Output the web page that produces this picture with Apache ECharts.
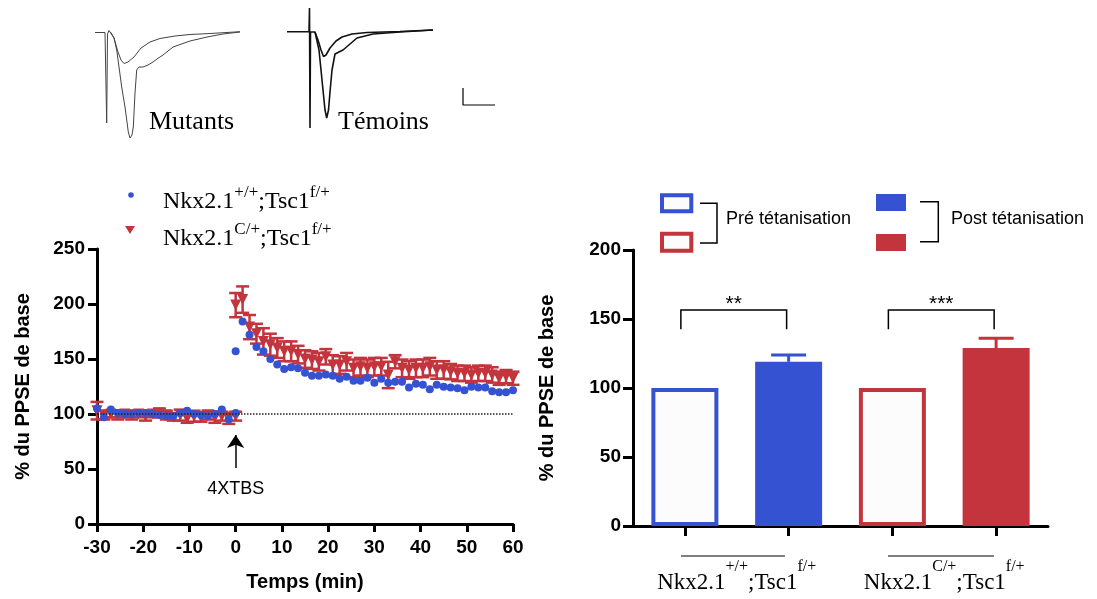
<!DOCTYPE html>
<html><head><meta charset="utf-8">
<script src="https://cdn.jsdelivr.net/npm/echarts@6/dist/echarts.min.js"></script>
<style>html,body{margin:0;padding:0;background:#fff}#c{width:1097px;height:599px}</style>
</head><body><div id="c"></div>
<script>
// ---------- DATA ----------
const timePre = [-30,-28.5,-27,-25.5,-24,-22.5,-21,-19.5,-18,-16.5,-15,-13.5,-12,-10.5,-9,-7.5,-6,-4.5,-3,-1.5,0];
const timePost = [0,1.5,3,4.5,6,7.5,9,10.5,12,13.5,15,16.5,18,19.5,21,22.5,24,25.5,27,28.5,30,31.5,33,34.5,36,37.5,39,40.5,42,43.5,45,46.5,48,49.5,51,52.5,54,55.5,57,58.5,60];

// Nkx2.1+/+;Tsc1f/+ (blue dots)
const ctrlPre = [105,97,104,101,100,100,101,101,100,99,98,98,101,103,100,99,98,100,104,95,101];
const ctrlPost = [157,184,172,161,157,150,145,141,142.5,141.5,137.5,134.8,134.8,135.8,134.8,132.1,133.9,130.3,130.3,133,128.5,132.1,128.5,129.4,129.4,124.2,127.6,126.7,122.4,126.7,124.8,124.2,123.3,121.5,124.8,124.2,124.2,120.6,119.7,119.7,121.5];

// Nkx2.1C/+;Tsc1f/+ (red triangles) mean and SEM
const mutPre = [103,99,100,99,100,99,100,98,100,101,99,97,99,96,98,97,99,97,98,96,98];
const mutPreSem = [8,4,3,4,3,4,3,4,3,4,4,3,5,4,5,4,4,5,4,5,4];
const mutPost = [199,204,179,173,166,163,160,157,157,154,150,149,147.5,152,144.5,144.5,147.5,141.5,143,141.5,143,143,135.5,147.5,141.5,140,141.5,141.5,143,140,140,138.5,137,137,135.5,137,137,135.5,132.5,134,132.5];
const mutPostSem = [11,12,11,9,12,10,9,9,9,8,8,8,8,7,9,8,8,8,8,8,8,8,12,6,8,8,8,8,8,8,8,7,7,7,7,7,7,7,6,6,6];

// bar chart
const barCategories = ['Pré +/+','Post +/+','Pré C/+','Post C/+'];
const barValues = [100, 119, 100, 129];
const barErrors = [0, 5, 0, 7];
const groupLabels = ['+/+', 'C/+'];
const sigFrom = [0, 2];
const sigTo = [1, 3];
const sigLabels = ['**', '***'];
const sigTop = 156.5;
const sigLeg = 142.5;

// example traces (ms, pA-like units)
const mutSmall = [[0,-0.5],[10,-0.5],[11,-2],[11.7,-91],[12.5,-2],[14,1.5],[16,-0.5],[19,-6],[23,-20],[26,-28],[29,-31.5],[33,-30],[39,-25],[46,-16],[55,-10],[65,-6.5],[80,-4],[95,-2.5],[115,-1.5],[145,0.3]];
const mutLarge = [[16,-0.5],[19,-6],[21.7,-18],[24,-35],[26.7,-55],[30,-75],[33.3,-100],[35,-106],[37,-103],[38.3,-95],[40,-61],[41.7,-38],[44,-35],[48,-35],[53,-33],[58,-30],[62,-27],[68,-23],[78,-15],[95,-9],[112,-5],[128,-2],[145,0]];
const temSmall = [[0,0.3],[22,0.3],[22.5,24],[23,-96],[23.5,0],[28,0],[31,-8],[34,-18],[36.5,-24.5],[39,-23],[43,-16],[49,-9],[55,-5],[65,-2],[80,-0.5],[113,0.5],[146,2]];
const temLarge = [[28,0],[32,-18],[34,-38],[36,-58],[38,-78],[39.7,-86],[41.5,-78],[43,-60],[45,-38],[48,-22],[52,-20],[56,-18],[63,-12],[70,-6],[86,-2],[113,0],[146,2]];
const scaleBar = [[176,-56],[176,-73],[208,-73]];

// ---------- STYLE ----------
const BLUE = '#3552D2';
const RED = '#C3343D';
const SANS = 'Liberation Sans';
const SERIF = 'Liberation Serif';

const bluePts = timePre.map((t,i)=>[t, ctrlPre[i]]).concat(timePost.map((t,i)=>[t, ctrlPost[i]]));
const redPts = timePre.map((t,i)=>[t, mutPre[i], mutPreSem[i]]).concat(timePost.map((t,i)=>[t, mutPost[i], mutPostSem[i]]));

const chart = echarts.init(document.getElementById('c'), null, {renderer:'canvas'});

const axisLbl = {color:'#000', fontFamily:SANS, fontWeight:'bold', fontSize:19};
const axisNameStyle = {color:'#000', fontFamily:SANS, fontWeight:'bold', fontSize:20};

const supRich = (mSize, mLH, sSize) => ({
  m:{fontFamily:SERIF, fontSize:mSize, lineHeight:mLH, color:'#000'},
  s:{fontFamily:SERIF, fontSize:sSize, lineHeight:sSize, verticalAlign:'top', color:'#000'}
});

const option = {
  animation:false,
  backgroundColor:'#fff',
  grid:[
    {left:97, top:249, width:416, height:275, outerBoundsMode:'none', containLabel:false},
    {left:633, top:250, width:415, height:276, outerBoundsMode:'none', containLabel:false},
    {left:95, top:0, width:150, height:145, outerBoundsMode:'none', containLabel:false},
    {left:287, top:0, width:215, height:145, outerBoundsMode:'none', containLabel:false}
  ],
  xAxis:[
    {gridIndex:0, type:'value', min:-30, max:60, interval:10,
     axisLine:{show:true, onZero:false, lineStyle:{color:'#000', width:3}},
     axisTick:{show:true, length:8, lineStyle:{color:'#000', width:3}},
     axisLabel:Object.assign({margin:14}, axisLbl),
     splitLine:{show:false},
     name:'Temps (min)', nameLocation:'middle', nameGap:48, nameMoveOverlap:false, nameTextStyle:axisNameStyle},
    {gridIndex:1, type:'category', data:barCategories, position:'bottom',
     axisLine:{show:true, onZero:false, lineStyle:{color:'#000', width:3}},
     axisTick:{show:true, alignWithLabel:true, length:10, lineStyle:{color:'#000', width:3}},
     axisLabel:{show:false}, splitLine:{show:false}},
    {gridIndex:1, type:'category', data:groupLabels, position:'bottom',
     axisLine:{show:false}, axisTick:{show:false}, splitLine:{show:false},
     axisLabel:{show:true, interval:0, margin:33,
       formatter:(v)=>'{m|Nkx2.1}{s|'+v+'}{m|;Tsc1}{s|f/+}',
       rich:supRich(23, 48, 16)}},
    {gridIndex:2, type:'value', min:0, max:150, show:false},
    {gridIndex:3, type:'value', min:0, max:215, show:false}
  ],
  yAxis:[
    {gridIndex:0, type:'value', min:0, max:250, interval:50,
     axisLine:{show:true, onZero:false, lineStyle:{color:'#000', width:3}},
     axisTick:{show:true, length:9, lineStyle:{color:'#000', width:3}},
     axisLabel:Object.assign({margin:12}, axisLbl),
     splitLine:{show:false},
     name:'% du PPSE de base', nameLocation:'middle', nameGap:64, nameMoveOverlap:false, nameTextStyle:axisNameStyle},
    {gridIndex:1, type:'value', min:0, max:200, interval:50,
     axisLine:{show:true, onZero:false, lineStyle:{color:'#000', width:3}},
     axisTick:{show:true, length:10, lineStyle:{color:'#000', width:3}},
     axisLabel:Object.assign({margin:12}, axisLbl),
     splitLine:{show:false},
     name:'% du PPSE de base', nameLocation:'middle', nameGap:76, nameMoveOverlap:false, nameTextStyle:axisNameStyle},
    {gridIndex:2, type:'value', min:-113, max:32, show:false},
    {gridIndex:3, type:'value', min:-113, max:32, show:false}
  ],
  series:[
    // red error bars
    {type:'custom', xAxisIndex:0, yAxisIndex:0, data:redPts, encode:{x:0, y:1}, z:2, silent:true,
     renderItem:function(params, api){
       const t = api.value(0), m = api.value(1), s = api.value(2);
       const top = api.coord([t, m+s]), bot = api.coord([t, m-s]);
       const hw = 6.5;
       const st = {stroke:RED, lineWidth:2.5};
       return {type:'group', children:[
         {type:'line', shape:{x1:top[0], y1:top[1], x2:bot[0], y2:bot[1]}, style:st},
         {type:'line', shape:{x1:top[0]-hw, y1:top[1], x2:top[0]+hw, y2:top[1]}, style:st},
         {type:'line', shape:{x1:bot[0]-hw, y1:bot[1], x2:bot[0]+hw, y2:bot[1]}, style:st}
       ]};
     }},
    // red triangles
    {type:'scatter', name:'Nkx2.1C/+;Tsc1f/+', xAxisIndex:0, yAxisIndex:0, data:redPts.map(p=>[p[0],p[1]]),
     symbol:'triangle', symbolRotate:180, symbolSize:[11,11], itemStyle:{color:RED, opacity:1}, z:3, silent:true,
     markLine:{silent:true, symbol:['none','arrow'], symbolSize:[13,13], label:{show:false},
       lineStyle:{color:'#000', width:1.5, type:'solid'},
       data:[[{coord:[0,51]},{coord:[0,81]}]]},
     markPoint:{silent:true, symbol:'circle', symbolSize:0,
       data:[{coord:[0,32], label:{show:true, position:'inside', formatter:'4XTBS', fontSize:18, color:'#000', fontFamily:SANS}}]}
    },
    // blue dots
    {type:'scatter', name:'Nkx2.1+/+;Tsc1f/+', xAxisIndex:0, yAxisIndex:0, data:bluePts,
     symbol:'circle', symbolSize:8, itemStyle:{color:BLUE, opacity:1}, z:4, silent:true,
     markLine:{silent:true, symbol:['none','none'], label:{show:false},
       lineStyle:{color:'#222', width:1.5, type:'dotted'},
       data:[{yAxis:100}]}
    },
    // bars
    {type:'bar', xAxisIndex:1, yAxisIndex:1, barWidth:67, silent:true,
     data:barValues.map((v,i)=>{
       const c = i < 2 ? BLUE : RED;
       const filled = (i % 2) === 1;
       return {value:v, itemStyle: filled ? {color:c, borderColor:c, borderWidth:3} : {color:'#FCFCFC', borderColor:c, borderWidth:4}};
     })},
    // bar error bars
    {type:'custom', xAxisIndex:1, yAxisIndex:1, data:barValues.map((v,i)=>[i, v, barErrors[i]]), encode:{x:0, y:1}, z:5, silent:true,
     renderItem:function(params, api){
       const i = params.dataIndex;
       const e = api.value(2);
       if (!e) return null;
       const c = i < 2 ? BLUE : RED;
       const b = api.coord([api.value(0), api.value(1)]);
       const t = api.coord([api.value(0), api.value(1)+e]);
       const st = {stroke:c, lineWidth:3};
       return {type:'group', children:[
         {type:'line', shape:{x1:b[0], y1:b[1], x2:t[0], y2:t[1]}, style:st},
         {type:'line', shape:{x1:t[0]-17.5, y1:t[1], x2:t[0]+17.5, y2:t[1]}, style:st}
       ]};
     }},
    // significance brackets
    {type:'custom', xAxisIndex:1, yAxisIndex:1, data:sigFrom.map((f,i)=>[f, sigTo[i], sigTop, sigLeg]), encode:{x:0, y:2}, z:5, silent:true,
     renderItem:function(params, api){
       const i = params.dataIndex;
       const p1 = api.coord([api.value(0), api.value(2)]);
       const p2 = api.coord([api.value(1), api.value(2)]);
       const l = api.coord([api.value(0), api.value(3)]);
       return {type:'group', children:[
         {type:'polyline', shape:{points:[[p1[0]-4,l[1]],[p1[0]-4,p1[1]],[p2[0]-2,p2[1]],[p2[0]-2,l[1]]]}, style:{stroke:'#000', lineWidth:1.5, fill:null}},
         {type:'text', style:{x:(p1[0]+p2[0])/2-3, y:p1[1]-6, text:sigLabels[i], align:'center', verticalAlign:'middle', fontSize:21, fontFamily:SANS, fill:'#000'}}
       ]};
     }},
    // traces
    {type:'line', xAxisIndex:3, yAxisIndex:2, data:mutSmall, symbol:'none', silent:true, lineStyle:{color:'#444', width:1}},
    {type:'line', xAxisIndex:3, yAxisIndex:2, data:mutLarge, symbol:'none', silent:true, lineStyle:{color:'#444', width:1}},
    {type:'line', xAxisIndex:4, yAxisIndex:3, data:temSmall, symbol:'none', silent:true, lineStyle:{color:'#111', width:1.6}},
    {type:'line', xAxisIndex:4, yAxisIndex:3, data:temLarge, symbol:'none', silent:true, lineStyle:{color:'#111', width:1.6}},
    {type:'line', xAxisIndex:4, yAxisIndex:3, data:scaleBar, symbol:'none', silent:true, lineStyle:{color:'#000', width:1.2}}
  ],
  graphic:[
    {type:'text', silent:true, style:{x:149, y:122, text:'Mutants', fontFamily:SERIF, fontSize:26, fill:'#000', align:'left', verticalAlign:'middle'}},
    {type:'text', silent:true, style:{x:338, y:122, text:'Témoins', fontFamily:SERIF, fontSize:26, fill:'#000', align:'left', verticalAlign:'middle'}},
    // left legend
    {type:'circle', silent:true, shape:{cx:131, cy:195, r:2.8}, style:{fill:BLUE}},
    {type:'polygon', silent:true, shape:{points:[[125,226],[135,226],[130,234]]}, style:{fill:RED}},
    {type:'text', silent:true, style:{x:163, y:184, text:'{m|Nkx2.1}{s|+/+}{m|;Tsc1}{s|f/+}', rich:supRich(24,36,17), align:'left', verticalAlign:'top'}},
    {type:'text', silent:true, style:{x:163, y:221, text:'{m|Nkx2.1}{s|C/+}{m|;Tsc1}{s|f/+}', rich:supRich(24,36,17), align:'left', verticalAlign:'top'}},
    // right legend
    {type:'rect', silent:true, shape:{x:662, y:195.3, width:29.3, height:16}, style:{fill:'#FCFCFC', stroke:BLUE, lineWidth:4}},
    {type:'rect', silent:true, shape:{x:662, y:233.7, width:29.3, height:17}, style:{fill:'#FCFCFC', stroke:RED, lineWidth:4}},
    {type:'polyline', silent:true, shape:{points:[[700,203.3],[717,203.3],[717,243],[700,243]]}, style:{stroke:'#000', lineWidth:1.5, fill:null}},
    {type:'text', silent:true, style:{x:726, y:219, text:'Pré tétanisation', fontFamily:SANS, fontSize:18, fill:'#000', align:'left', verticalAlign:'middle'}},
    {type:'rect', silent:true, shape:{x:876, y:194, width:30, height:17}, style:{fill:BLUE}},
    {type:'rect', silent:true, shape:{x:876, y:234, width:30, height:17}, style:{fill:RED}},
    {type:'polyline', silent:true, shape:{points:[[920,201.7],[938.3,201.7],[938.3,241.7],[920,241.7]]}, style:{stroke:'#000', lineWidth:1.5, fill:null}},
    {type:'text', silent:true, style:{x:951, y:219, text:'Post tétanisation', fontFamily:SANS, fontSize:18, fill:'#000', align:'left', verticalAlign:'middle'}},
    // group overlines
    {type:'line', silent:true, shape:{x1:681, y1:556, x2:785, y2:556}, style:{stroke:'#000', lineWidth:1}},
    {type:'line', silent:true, shape:{x1:888, y1:556, x2:994, y2:556}, style:{stroke:'#000', lineWidth:1}}
  ]
};
chart.setOption(option);
</script>
</body></html>
